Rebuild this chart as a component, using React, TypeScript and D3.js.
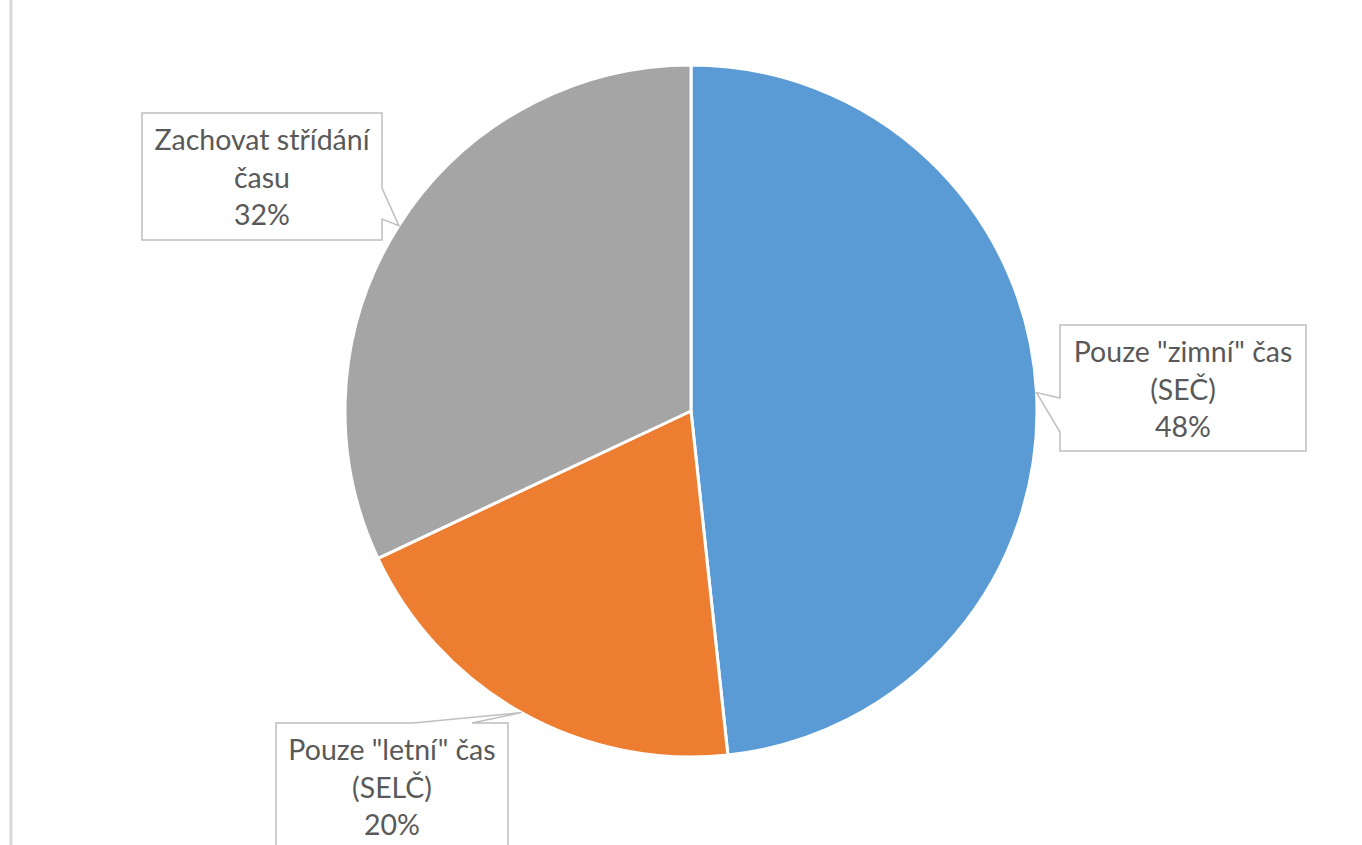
import React, { useEffect, useRef } from 'react'
import * as d3 from 'd3'

const categories = ['Pouze "zimní" čas (SEČ)', 'Pouze "letní" čas (SELČ)', 'Zachovat střídání času']
const labelLines = [
    ['Pouze "zimní" čas', '(SEČ)'],
    ['Pouze "letní" čas', '(SELČ)'],
    ['Zachovat střídání', 'času'],
]
// shares; labels show them rounded
const values = [48.3, 19.7, 32.0]
const colors = ['#5B9BD5', '#ED7D31', '#A5A5A5']

// label boxes: x, y, w, h and which edge the pointer leaves from
const boxes = [
    { x: 1060, y: 325, w: 246, h: 126, side: 'left', b0: 398, b1: 432 },
    { x: 276, y: 723, w: 232, h: 140, side: 'top', b0: 413, b1: 472 },
    { x: 142, y: 113, w: 240, h: 127, side: 'right', b0: 188, b1: 219 },
]

const App: React.FC = () => {
    const svgRef = useRef<SVGSVGElement | null>(null)

    useEffect(() => {
        if (!svgRef.current) return
        const width = 1362
        const height = 845
        const cx = 691
        const cy = 411
        const r = 346

        const svg = d3.select(svgRef.current).attr('width', width).attr('height', height)
        svg.selectAll('*').remove()

        svg.append('rect').attr('width', width).attr('height', height).attr('fill', '#fff')
        svg.append('line')
            .attr('x1', 11).attr('x2', 11).attr('y1', 0).attr('y2', height)
            .attr('stroke', '#d9d9d9').attr('stroke-width', 3)

        const pie = d3.pie<number>().sort(null).value((d) => d)
        const arcs = pie(values)
        const arc = d3.arc<d3.PieArcDatum<number>>().innerRadius(0).outerRadius(r)

        const g = svg.append('g').attr('transform', `translate(${cx},${cy})`)
        g.selectAll('path')
            .data(arcs)
            .join('path')
            .attr('d', arc)
            .attr('fill', (_, i) => colors[i])
            .attr('stroke', '#fff')
            .attr('stroke-width', 3)
            .attr('stroke-linejoin', 'round')

        // callouts
        arcs.forEach((a, i) => {
            const mid = (a.startAngle + a.endAngle) / 2
            const tx = cx + Math.sin(mid) * r
            const ty = cy - Math.cos(mid) * r
            const b = boxes[i]
            const x0 = b.x, y0 = b.y, x1 = b.x + b.w, y1 = b.y + b.h
            let p = ''
            if (b.side === 'left') {
                p = `M${x0},${y0} L${x1},${y0} L${x1},${y1} L${x0},${y1} L${x0},${b.b1} L${tx},${ty} L${x0},${b.b0} Z`
            } else if (b.side === 'right') {
                p = `M${x0},${y0} L${x1},${y0} L${x1},${b.b0} L${tx},${ty} L${x1},${b.b1} L${x1},${y1} L${x0},${y1} Z`
            } else {
                p = `M${x0},${y0} L${b.b0},${y0} L${tx},${ty} L${b.b1},${y0} L${x1},${y0} L${x1},${y1} L${x0},${y1} Z`
            }
            svg.append('path')
                .attr('d', p)
                .attr('fill', '#fff')
                .attr('stroke', '#BFBFBF')
                .attr('stroke-width', 1.5)

            const lines = [...labelLines[i], `${Math.round(values[i])}%`]
            const t = svg.append('text')
                .attr('text-anchor', 'middle')
                .attr('fill', '#595959')
                .style('font-family', 'Lato, "Open Sans", sans-serif')
                .style('font-size', '28.5px')
            lines.forEach((l, j) => {
                t.append('tspan')
                    .attr('x', b.x + b.w / 2)
                    .attr('y', b.y + 37 + j * 37.5)
                    .text(l)
            })
        })
    }, [])

    return (
        <div style={{ position: 'absolute', left: 0, top: 0 }}>
            <svg ref={svgRef} aria-label={categories.join(', ')}></svg>
        </div>
    )
}

export default App
